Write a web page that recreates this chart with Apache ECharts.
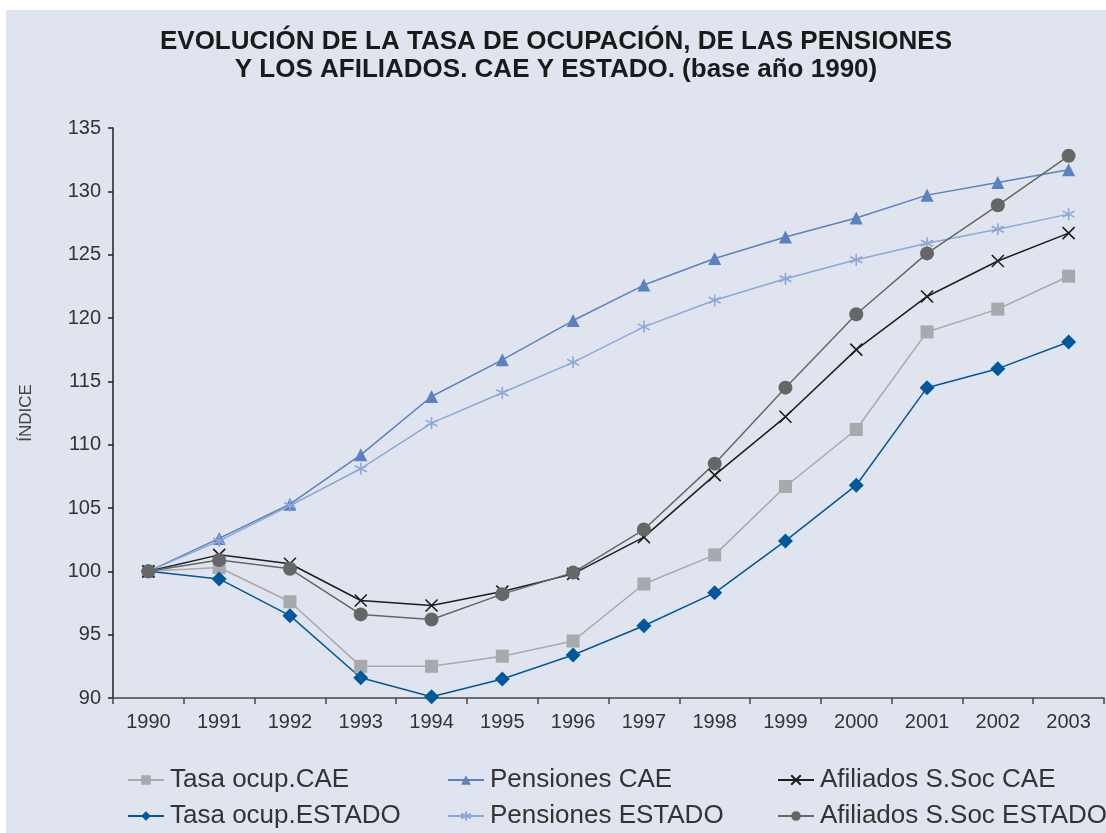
<!DOCTYPE html>
<html>
<head>
<meta charset="utf-8">
<style>
  html, body { margin: 0; padding: 0; background: #ffffff; }
  #main { position: absolute; left: 6px; top: 10px; width: 1100px; height: 823px; background: #dfe4ef; }
</style>
</head>
<body>
<div id="main"></div>
<script src="https://cdn.jsdelivr.net/npm/echarts@6/dist/echarts.min.js"></script>
<script type="text/javascript">
    var years = ['1990', '1991', '1992', '1993', '1994', '1995', '1996', '1997', '1998', '1999', '2000', '2001', '2002', '2003'];

    var tasaCAE = [100, 100.3, 97.6, 92.5, 92.5, 93.3, 94.5, 99.0, 101.3, 106.7, 111.2, 118.9, 120.7, 123.3];
    var tasaEstado = [100, 99.4, 96.5, 91.6, 90.1, 91.5, 93.4, 95.7, 98.3, 102.4, 106.8, 114.5, 116.0, 118.1];
    var pensionesCAE = [100, 102.6, 105.3, 109.2, 113.8, 116.7, 119.8, 122.6, 124.7, 126.4, 127.9, 129.7, 130.7, 131.7];
    var pensionesEstado = [100, 102.4, 105.2, 108.1, 111.7, 114.1, 116.5, 119.3, 121.4, 123.1, 124.6, 125.9, 127.0, 128.2];
    var afiliadosCAE = [100, 101.3, 100.6, 97.7, 97.3, 98.4, 99.8, 102.7, 107.6, 112.2, 117.5, 121.7, 124.5, 126.7];
    var afiliadosEstado = [100, 100.9, 100.2, 96.6, 96.2, 98.2, 99.9, 103.3, 108.5, 114.5, 120.3, 125.1, 128.9, 132.8];

    var seriesNames = ['Tasa ocup.CAE', 'Tasa ocup.ESTADO', 'Pensiones CAE', 'Pensiones ESTADO', 'Afiliados S.Soc CAE', 'Afiliados S.Soc ESTADO'];

    var font = 'Liberation Sans, Arial, sans-serif';

    function line(name, data, color, symbol, size, stroked) {
        return {
            name: name,
            type: 'line',
            data: data,
            symbol: symbol,
            symbolSize: size,
            lineStyle: { color: color, width: 1.5 },
            itemStyle: stroked
                ? { color: color, borderColor: color, borderWidth: 1.6 }
                : { color: color },
            emphasis: { disabled: true }
        };
    }

    var starPath = 'path://M0,-6L0,6M-5.2,-3L5.2,3M-5.2,3L5.2,-3';
    var crossPath = 'path://M-6,-6L6,6M-6,6L6,-6';

    // one legend per item, so the three columns line up like the original
    var legendCols = [116, 436, 766];
    var legendRows = [752, 788];
    var legends = [];
    for (var i = 0; i < seriesNames.length; i++) {
        legends.push({
            left: legendCols[Math.floor(i / 2)],
            top: legendRows[i % 2],
            itemWidth: 36,
            itemHeight: 12,
            itemGap: 0,
            textStyle: { fontFamily: font, fontSize: 26, color: '#333333', padding: [0, 0, 0, 1] },
            data: [seriesNames[i]]
        });
    }

    var myChart = echarts.init(document.getElementById('main'));

    var option = {
        animation: false,
        title: {
            text: 'EVOLUCIÓN DE LA TASA DE OCUPACIÓN, DE LAS PENSIONES\nY LOS AFILIADOS. CAE Y ESTADO. (base año 1990)',
            left: 'center',
            top: 13,
            textStyle: { fontFamily: font, fontSize: 26, fontWeight: 'bold', color: '#1a1a1a', lineHeight: 28 }
        },
        legend: legends,
        grid: { left: 107, top: 118, right: 2, bottom: 135 },
        xAxis: {
            type: 'category',
            data: years,
            boundaryGap: true,
            axisLine: { lineStyle: { color: '#444', width: 1.5 } },
            axisTick: { show: true, length: 6, lineStyle: { color: '#444', width: 1.5 } },
            axisLabel: { fontFamily: font, fontSize: 20, color: '#333', margin: 14 }
        },
        yAxis: {
            type: 'value',
            min: 90,
            max: 135,
            interval: 5,
            name: 'ÍNDICE',
            nameLocation: 'middle',
            nameGap: 78,
            nameTextStyle: { fontFamily: font, fontSize: 17, color: '#444' },
            axisLine: { show: true, lineStyle: { color: '#222', width: 1.5 } },
            axisTick: { show: true, length: 5, lineStyle: { color: '#222', width: 1.5 } },
            axisLabel: { fontFamily: font, fontSize: 20, color: '#333', margin: 12 },
            splitLine: { show: false }
        },
        series: [
            line(seriesNames[0], tasaCAE, '#a7a9ac', 'rect', 13, false),
            line(seriesNames[1], tasaEstado, '#00589c', 'diamond', 15, false),
            line(seriesNames[2], pensionesCAE, '#5b82c0', 'triangle', 13, false),
            line(seriesNames[3], pensionesEstado, '#8da8d8', starPath, 12, true),
            line(seriesNames[4], afiliadosCAE, '#1e1e1e', crossPath, 12, true),
            line(seriesNames[5], afiliadosEstado, '#666666', 'circle', 14, false)
        ]
    };

    myChart.setOption(option);
</script>
</body>
</html>
